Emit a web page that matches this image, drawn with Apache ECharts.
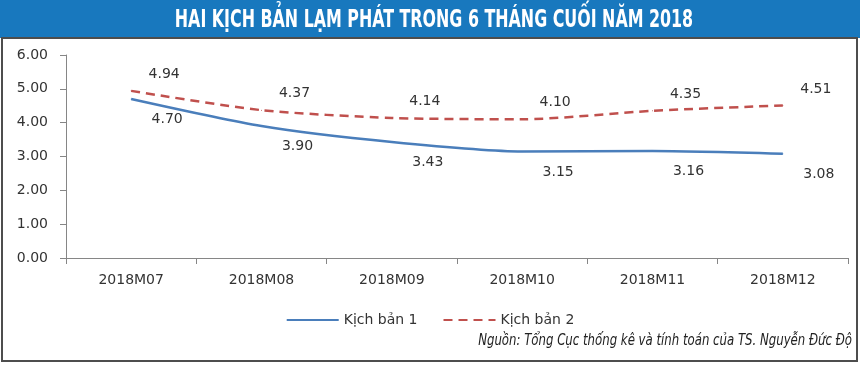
<!DOCTYPE html>
<html><head><meta charset="utf-8">
<script src="https://cdn.jsdelivr.net/npm/echarts@6/dist/echarts.min.js"></script>
<style>html,body{margin:0;padding:0;background:#fff}#c{width:860px;height:365px}</style>
</head><body><div id="c"></div>
<script>
const categories = ['2018M07','2018M08','2018M09','2018M10','2018M11','2018M12'];
const scenario1 = [4.70, 3.90, 3.43, 3.15, 3.16, 3.08];
const scenario2 = [4.94, 4.37, 4.14, 4.10, 4.35, 4.51];
const seriesNames = ['Kịch bản 1', 'Kịch bản 2'];
const yTicks = [0, 6, 1];
const titleText = 'HAI KỊCH BẢN LẠM PHÁT TRONG 6 THÁNG CUỐI NĂM 2018';
const sourceText = 'Nguồn: Tổng Cục thống kê và tính toán của TS. Nguyễn Đức Độ';

const font = 'DejaVu Sans, Verdana, sans-serif';
const chart = echarts.init(document.getElementById('c'));
chart.setOption({
  backgroundColor: '#fff',
  animation: false,
  grid: {left: 66, right: 12, top: 55, bottom: 107},
  graphic: [
    {type: 'rect', shape: {x: 0, y: 0, width: 860, height: 38}, style: {fill: '#1878be'}, z: 10},
    {type: 'rect', shape: {x: 2, y: 38, width: 855, height: 323}, style: {fill: 'none', stroke: '#4d4d4d', lineWidth: 2}, z: 10},
    {type: 'text', x: 434, y: 21, scaleX: 0.735, z: 11, style: {text: titleText, fill: '#fff', font: 'bold 24px "Liberation Sans Narrow", "DejaVu Sans Condensed", sans-serif', textAlign: 'center', textVerticalAlign: 'middle'}},
    {type: 'text', x: 852, y: 341, scaleX: 0.87, z: 11, style: {text: sourceText, fill: '#222', font: 'italic 15px "Liberation Sans Narrow", "DejaVu Sans Condensed", sans-serif', textAlign: 'right', textVerticalAlign: 'middle'}}
  ],
  legend: {
    bottom: 33, left: 'center',
    itemWidth: 52, itemHeight: 10, itemGap: 25,
    itemStyle: {opacity: 0},
    textStyle: {fontFamily: font, fontSize: 14, color: '#333'},
    data: seriesNames
  },
  xAxis: {
    type: 'category', data: categories, boundaryGap: true,
    axisLine: {lineStyle: {color: '#868686', width: 1}},
    axisTick: {show: true, interval: 0, length: 6, lineStyle: {color: '#868686'}},
    axisLabel: {fontFamily: font, fontSize: 14, color: '#333', margin: 15}
  },
  yAxis: {
    type: 'value', min: yTicks[0], max: yTicks[1], interval: yTicks[2],
    axisLine: {show: true, lineStyle: {color: '#868686', width: 1}},
    axisTick: {show: true, length: 6, lineStyle: {color: '#868686'}},
    splitLine: {show: false},
    axisLabel: {fontFamily: font, fontSize: 14, color: '#333', margin: 18, formatter: v => v.toFixed(2)}
  },
  series: [
    {
      name: seriesNames[0], type: 'line', data: scenario1, smooth: 0.25,
      symbol: 'circle', symbolSize: 1, showSymbol: true,
      lineStyle: {color: '#4a7ebb', width: 2.5}, itemStyle: {color: '#4a7ebb'},
      label: {show: true, position: 'bottom', distance: 0, offset: [36, 13], fontFamily: font, fontSize: 14, color: '#333', formatter: p => p.value.toFixed(2)}
    },
    {
      name: seriesNames[1], type: 'line', data: scenario2, smooth: 0.25,
      symbol: 'circle', symbolSize: 1, showSymbol: true,
      lineStyle: {color: '#c0504d', width: 2.5, type: [9, 6]}, itemStyle: {color: '#c0504d'},
      label: {show: true, position: 'top', distance: 0, offset: [33, -9], fontFamily: font, fontSize: 14, color: '#333', formatter: p => p.value.toFixed(2)}
    }
  ]
});
</script></body></html>
